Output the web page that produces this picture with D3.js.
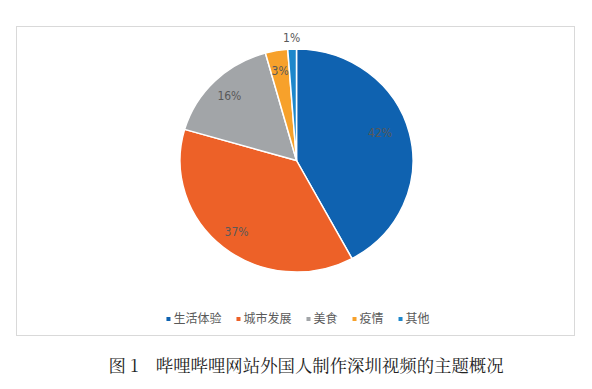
<!DOCTYPE html>
<html>
<head>
<meta charset="utf-8">
<script src="https://cdn.jsdelivr.net/npm/d3@7"></script>
<style>
    body { margin: 0; background: #fff; }
    svg { display: block; }
</style>
</head>
<body>
<div id="chart"></div>
<script>
let categories = ['生活体验', '城市发展', '美食', '疫情', '其他'];
let values = [42.1, 37.4, 16.2, 3.1, 1.2];
let colors = ['#0f62b0', '#ed6128', '#a2a5a8', '#f7a12b', '#1d87cb'];
let caption = '图 1\u2003哔哩哔哩网站外国人制作深圳视频的主题概况';

let width = 592, height = 389;
let cx = 296.5, cy = 160.5, radius = 116.5;
let squash = 0.957; // picture is slightly squeezed vertically

let svg = d3.select('#chart').append('svg')
    .attr('width', width)
    .attr('height', height);

// chart frame
svg.append('rect')
    .attr('x', 16.5).attr('y', 26.5)
    .attr('width', 558).attr('height', 309)
    .attr('fill', '#fff')
    .attr('stroke', '#d9d9d9');

let total = d3.sum(values);
let pie = d3.pie().sort(null).value(d => d.value);
let slices = pie(categories.map((c, i) => ({ name: c, value: values[i], color: colors[i] })));

let arc = d3.arc().innerRadius(0).outerRadius(radius);
let labelArc = d3.arc().innerRadius(radius * 0.82).outerRadius(radius * 0.82);
let outerArc = d3.arc().innerRadius(radius + 12).outerRadius(radius + 12);

let g = svg.append('g').attr('transform', `translate(${cx},${cy})`);

g.append('g')
    .attr('transform', `scale(1,${squash})`)
    .selectAll('path')
    .data(slices)
    .enter().append('path')
    .attr('d', arc)
    .attr('fill', d => d.data.color)
    .attr('stroke', '#fff')
    .attr('stroke-width', 1.5)
    .attr('stroke-linejoin', 'round');

g.selectAll('text')
    .data(slices)
    .enter().append('text')
    .attr('transform', d => {
        let p = (d.data.value / total < 0.02 ? outerArc : labelArc).centroid(d);
        if (d.index === 0) p = [p[0] - 9, p[1] - 5];
        return `translate(${p[0]},${p[1] * squash})`;
    })
    .attr('text-anchor', 'middle')
    .attr('dy', '0.35em')
    .attr('font-family', '"Liberation Sans Narrow", "DejaVu Sans Condensed", "Liberation Sans", sans-serif')
    .attr('font-size', 12)
    .attr('fill', '#595959')
    .text(d => Math.round(d.data.value / total * 100) + '%');

// legend
let legend = svg.append('g');
let legendX = 0;
let items = legend.selectAll('g')
    .data(slices)
    .enter().append('g');

items.append('rect')
    .attr('width', 4).attr('height', 4)
    .attr('y', -2)
    .attr('fill', d => d.data.color);

items.append('text')
    .attr('x', 7)
    .attr('dy', '0.35em')
    .attr('font-family', '"Noto Sans CJK SC", sans-serif')
    .attr('font-size', 12)
    .attr('fill', '#595959')
    .text(d => d.data.name);

items.each(function() {
    let w = this.getBBox().width;
    d3.select(this).attr('transform', `translate(${legendX},0)`);
    legendX += w + 15;
});
legendX -= 15;
legend.attr('transform', `translate(${297 - legendX / 2 + 1},319)`);

svg.append('text')
    .attr('x', 306).attr('y', 366)
    .attr('text-anchor', 'middle')
    .attr('dy', '0.35em')
    .attr('font-family', '"Noto Serif CJK SC", "Noto Sans CJK SC", serif')
    .attr('font-size', 17.4)
    .attr('fill', '#222')
    .text(caption);
</script>
</body>
</html>
